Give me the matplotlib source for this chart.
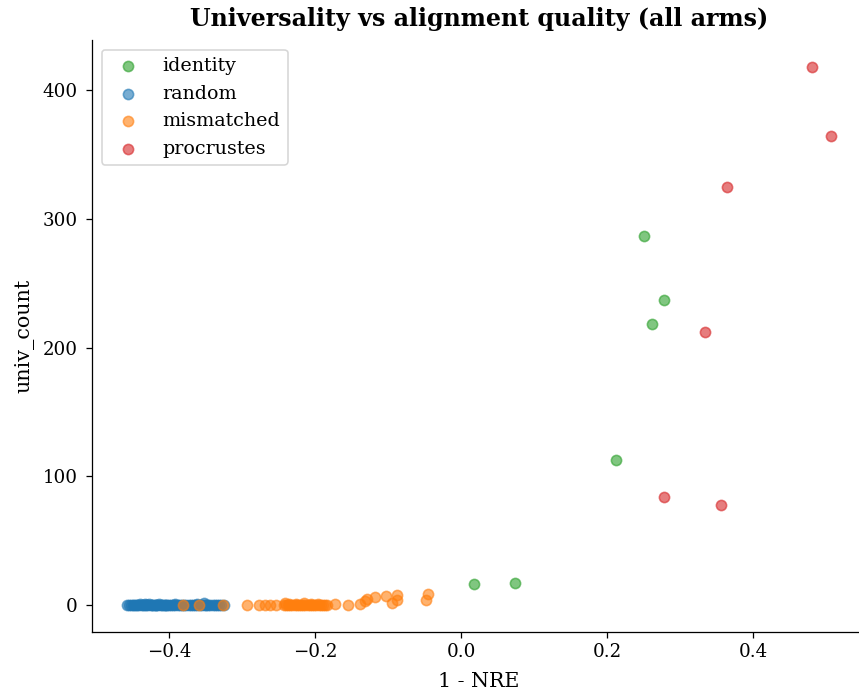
import matplotlib.pyplot as plt

# identity arm
identity_x = [0.017, 0.074, 0.212, 0.250, 0.261, 0.278]
identity_y = [16, 17, 113, 287, 218, 237]

# random arm (all near zero)
random_x = [-0.457, -0.455, -0.452, -0.449, -0.447, -0.445, -0.443, -0.441,
            -0.439, -0.437, -0.435, -0.433, -0.431, -0.429, -0.427, -0.425,
            -0.423, -0.421, -0.419, -0.417, -0.415, -0.413, -0.411, -0.409,
            -0.407, -0.405, -0.403, -0.400, -0.397, -0.394, -0.391, -0.388,
            -0.385, -0.382, -0.379, -0.376, -0.373, -0.370, -0.367, -0.364,
            -0.361, -0.358, -0.355, -0.352, -0.349, -0.346, -0.343, -0.340,
            -0.337, -0.334, -0.331, -0.328, -0.325, -0.432, -0.418, -0.404,
            -0.392, -0.362, -0.350]
random_y = [0, 0, 0, 0, 0, 0, 0, 0, 1, 0, 0, 0, 0, 0, 1, 0, 0, 0, 0, 0, 0, 1,
            0, 0, 0, 0, 0, 0, 0, 0, 0, 0, 0, 0, 0, 0, 0, 0, 0, 0, 0, 0, 0, 2,
            0, 0, 0, 0, 0, 0, 0, 0, 0, 1, 0, 0, 1, 1, 0]

# mismatched arm
mismatched_x = [-0.381, -0.359, -0.326, -0.293, -0.276, -0.268, -0.261, -0.254,
                -0.243, -0.240, -0.237, -0.234, -0.231, -0.228, -0.225, -0.222,
                -0.219, -0.216, -0.213, -0.210, -0.207, -0.204, -0.201, -0.198,
                -0.195, -0.192, -0.189, -0.186, -0.184, -0.241, -0.236, -0.226,
                -0.215, -0.205, -0.196, -0.173, -0.155, -0.139, -0.131, -0.129,
                -0.118, -0.103, -0.095, -0.088, -0.088, -0.048, -0.045]
mismatched_y = [0, 0, 0, 0, 0, 0, 0, 0, 0, 0, 0, 0, 0, 0, 0, 0, 0, 0, 0, 0, 0,
                0, 0, 0, 0, 0, 0, 0, 0, 2, 1, 1, 2, 1, 1, 1, 0, 1, 3, 5, 6, 7,
                2, 8, 4, 4, 9]

# procrustes arm
procrustes_x = [0.480, 0.506, 0.364, 0.334, 0.278, 0.356]
procrustes_y = [418, 364, 325, 212, 84, 78]

plt.rcParams['font.family'] = 'DejaVu Serif'

DPI = 114
fig, ax = plt.subplots(figsize=(859 / DPI, 695 / DPI), dpi=DPI)
ax.scatter(identity_x, identity_y, s=42, alpha=0.6, color='tab:green', label='identity')
ax.scatter(random_x, random_y, s=42, alpha=0.6, color='tab:blue', label='random')
ax.scatter(mismatched_x, mismatched_y, s=42, alpha=0.6, color='tab:orange', label='mismatched')
ax.scatter(procrustes_x, procrustes_y, s=42, alpha=0.6, color='tab:red', label='procrustes')

ax.set_title('Universality vs alignment quality (all arms)', fontweight='bold',
             fontsize=15, pad=9)
ax.set_xlabel('1 - NRE', fontsize=13, labelpad=7)
ax.set_ylabel('univ_count', fontsize=13, labelpad=5.5)
ax.tick_params(labelsize=11.5)
ax.tick_params(axis='y', pad=5.4)
ax.spines['top'].set_visible(False)
ax.spines['right'].set_visible(False)
ax.legend(loc='upper left', fontsize=12)

# axes runs slightly past the right edge, as in the reference crop
fig.subplots_adjust(left=92 / 859, right=866 / 859, top=1 - 40 / 695, bottom=1 - 632 / 695)
fig.savefig('out.png', dpi=DPI)
